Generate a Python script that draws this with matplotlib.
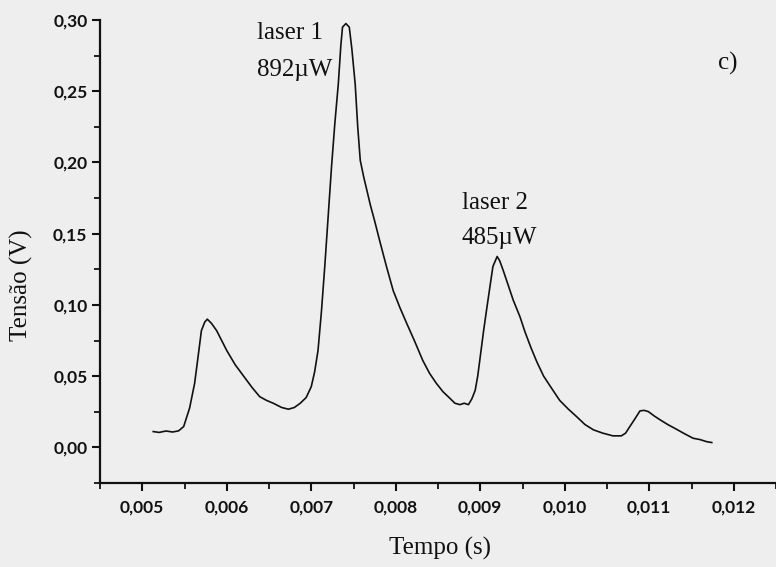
import matplotlib

matplotlib.use("Agg")
import matplotlib.pyplot as plt
from matplotlib.ticker import FixedLocator, MultipleLocator

# leitura do traço do osciloscópio (tempo em s, tensão em V)
tempo = [
    0.00513, 0.00520, 0.00528, 0.00536, 0.00543, 0.00549, 0.00556, 0.00562,
    0.00567, 0.00570, 0.00574, 0.00577, 0.00582, 0.00588, 0.00594, 0.00600,
    0.00610, 0.00620, 0.00630, 0.00639, 0.00647, 0.00655, 0.00665, 0.00673,
    0.00680, 0.00687, 0.00694, 0.00700, 0.00704, 0.00708, 0.00712, 0.00716,
    0.00720, 0.00724, 0.00728, 0.00732, 0.00735, 0.00737, 0.00741, 0.00745,
    0.00748, 0.00752, 0.00755, 0.00758, 0.00762, 0.00766, 0.00770, 0.00775,
    0.00781, 0.00789, 0.00797, 0.00805, 0.00813, 0.00822, 0.00832, 0.00840,
    0.00848, 0.00856, 0.00864, 0.00870, 0.00876, 0.00881, 0.00886, 0.00890,
    0.00894, 0.00897, 0.00900, 0.00904, 0.00908, 0.00912, 0.00915, 0.00920,
    0.00923, 0.00927, 0.00933, 0.00939, 0.00947, 0.00953, 0.00960, 0.00967,
    0.00975, 0.00985, 0.00994, 0.01004, 0.01014, 0.01024, 0.01034, 0.01045,
    0.01057, 0.01067, 0.01072, 0.01077, 0.01083, 0.01089, 0.01094, 0.01099,
    0.01106, 0.01113, 0.01122, 0.01132, 0.01142, 0.01152, 0.01160, 0.01168,
    0.01174,
]
tensao = [
    0.0111, 0.0105, 0.0115, 0.0108, 0.0116, 0.0146, 0.0275, 0.0450,
    0.0680, 0.0820, 0.0880, 0.0900, 0.0870, 0.0820, 0.0750, 0.0680,
    0.0580, 0.0500, 0.0420, 0.0356, 0.0330, 0.0310, 0.0280, 0.0268,
    0.0280, 0.0310, 0.0350, 0.0426, 0.0530, 0.0680, 0.0950, 0.1270,
    0.1620, 0.1970, 0.2280, 0.2550, 0.2820, 0.2950, 0.2975, 0.2950,
    0.2800, 0.2550, 0.2250, 0.2015, 0.1900, 0.1800, 0.1700, 0.1590,
    0.1450, 0.1270, 0.1100, 0.0980, 0.0870, 0.0750, 0.0610, 0.0520,
    0.0450, 0.0390, 0.0345, 0.0310, 0.0300, 0.0310, 0.0300, 0.0340,
    0.0400, 0.0500, 0.0637, 0.0820, 0.0987, 0.1150, 0.1270, 0.1340,
    0.1310, 0.1245, 0.1140, 0.1034, 0.0917, 0.0810, 0.0700, 0.0600,
    0.0500, 0.0410, 0.0330, 0.0270, 0.0216, 0.0160, 0.0123, 0.0100,
    0.0081, 0.0081, 0.0100, 0.0146, 0.0200, 0.0256, 0.0260, 0.0251,
    0.0220, 0.0193, 0.0160, 0.0128, 0.0095, 0.0064, 0.0055, 0.0040,
    0.0034,
]

x_ticks = [0.005, 0.006, 0.007, 0.008, 0.009, 0.010, 0.011, 0.012]
x_labels = ["0,005", "0,006", "0,007", "0,008", "0,009", "0,010", "0,011", "0,012"]
y_ticks = [0.00, 0.05, 0.10, 0.15, 0.20, 0.25, 0.30]
y_labels = ["0,00", "0,05", "0,10", "0,15", "0,20", "0,25", "0,30"]

ink = "#111111"
paper = "#eeeeee"
W, H = 776, 567


def px(x, y):
    return x / W, 1 - y / H


fig = plt.figure(figsize=(W / 100, H / 100), dpi=100, facecolor=paper)
ax = fig.add_axes([100 / W, 84 / H, 676 / W, 463 / H], facecolor=paper)

ax.plot(tempo, tensao, color=ink, lw=1.2)

ax.set_xlim(0.0045, 0.0125)
ax.set_ylim(-0.025, 0.30)
for side in ["top", "right"]:
    ax.spines[side].set_visible(False)
for side in ["left", "bottom"]:
    ax.spines[side].set_linewidth(1.6)
    ax.spines[side].set_color(ink)

ax.xaxis.set_major_locator(FixedLocator(x_ticks))
ax.set_xticklabels(x_labels)
ax.yaxis.set_major_locator(FixedLocator(y_ticks))
ax.set_yticklabels(y_labels)
ax.xaxis.set_minor_locator(MultipleLocator(0.0005))
ax.yaxis.set_minor_locator(MultipleLocator(0.025))

ax.tick_params(which="major", direction="out", length=6, width=1.5, color=ink)
ax.tick_params(which="minor", direction="out", length=4, width=1.3, color=ink)
ax.tick_params(axis="x", pad=6)
ax.tick_params(axis="y", pad=3)
for lab in ax.get_xticklabels() + ax.get_yticklabels():
    lab.set_fontfamily("Lato")
    lab.set_fontweight("bold")
    lab.set_fontsize(12.5)
    lab.set_color(ink)

serif = dict(family="Liberation Serif", fontsize=18, color=ink)
fig.text(*px(440, 548), "Tempo (s)", ha="center", va="center", **serif)
fig.text(*px(21, 285), "Tensão (V)", ha="center", va="center", rotation=90, **serif)

fig.text(*px(257, 33), "laser 1", ha="left", va="center", **serif)
fig.text(*px(257, 70), "892\u00b5W", ha="left", va="center", **serif)
fig.text(*px(462, 203), "laser 2", ha="left", va="center", **serif)
fig.text(*px(462, 238), "485\u00b5W", ha="left", va="center", **serif)
fig.text(*px(718, 63), "c)", ha="left", va="center", **serif)

fig.savefig("out.png", dpi=100, facecolor=paper)
